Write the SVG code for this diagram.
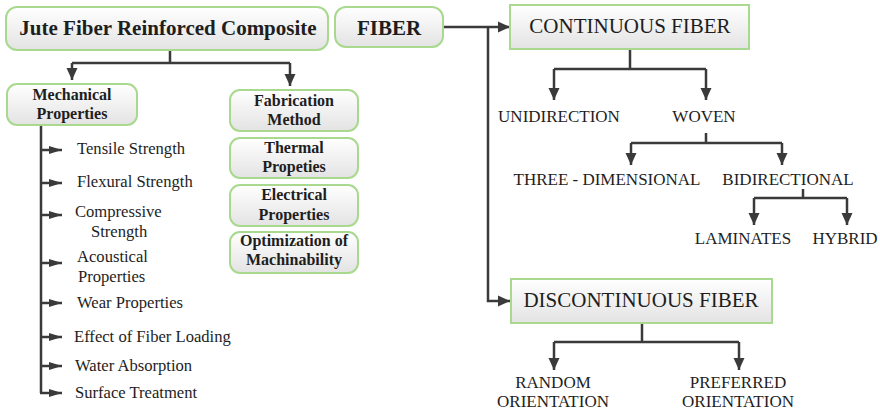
<svg xmlns="http://www.w3.org/2000/svg" width="880" height="413" viewBox="0 0 880 413">
<defs>
<linearGradient id="g" x1="0" y1="0" x2="0" y2="1">
<stop offset="0" stop-color="#ffffff"/>
<stop offset="1" stop-color="#e3e3e3"/>
</linearGradient>
<marker id="ah" markerUnits="userSpaceOnUse" markerWidth="12" markerHeight="12" refX="12" refY="6" orient="auto">
<path d="M0,0.5 L12,6 L0,11.5 z" fill="#3a3a3a"/>
</marker>
<marker id="as" markerUnits="userSpaceOnUse" markerWidth="13" markerHeight="9" refX="13" refY="4.5" orient="auto">
<path d="M0,0.5 L13,4.5 L0,8.5 z" fill="#3a3a3a"/>
</marker>
</defs>
<style>
.box{fill:url(#g);stroke:#a9d98e;stroke-width:2}
.t{font-family:"Liberation Serif","Times New Roman",serif;fill:#1e1e1e;text-anchor:middle}
.b{font-weight:bold}
.l{font-family:"Liberation Serif","Times New Roman",serif;fill:#1e1e1e;font-size:16.6px}
.c{fill:none;stroke:#3a3a3a;stroke-width:2.5}
.cs{fill:none;stroke:#3a3a3a;stroke-width:2.5}
</style>
<rect width="880" height="413" fill="#ffffff"/>

<g id="connectors">
<path class="c" d="M170,50 V63 M72,63 H290"/>
<path class="c" d="M72,63 V80" marker-end="url(#ah)"/>
<path class="c" d="M290,63 V86" marker-end="url(#ah)"/>
<path class="c" d="M443,27 H510" marker-end="url(#ah)"/>
<path class="c" d="M488,27 V301 H510" marker-end="url(#ah)"/>
<path class="c" d="M630,49 V69 M554,69 H706"/>
<path class="c" d="M554,69 V100" marker-end="url(#ah)"/>
<path class="c" d="M706,69 V100" marker-end="url(#ah)"/>
<path class="c" d="M706,133 V143 M631,143 H782"/>
<path class="c" d="M631,143 V165" marker-end="url(#ah)"/>
<path class="c" d="M782,143 V165" marker-end="url(#ah)"/>
<path class="c" d="M803,189 V198 M754,198 H847"/>
<path class="c" d="M754,198 V225" marker-end="url(#ah)"/>
<path class="c" d="M847,198 V225" marker-end="url(#ah)"/>
<path class="c" d="M642,323 V342 M554,342 H739"/>
<path class="c" d="M554,342 V370" marker-end="url(#ah)"/>
<path class="c" d="M739,342 V370" marker-end="url(#ah)"/>
<path class="cs" d="M41,125 V393"/>
<path class="cs" d="M41,150 H62" marker-end="url(#as)"/>
<path class="cs" d="M41,183 H62" marker-end="url(#as)"/>
<path class="cs" d="M41,215 H62" marker-end="url(#as)"/>
<path class="cs" d="M41,263 H62" marker-end="url(#as)"/>
<path class="cs" d="M41,303 H62" marker-end="url(#as)"/>
<path class="cs" d="M41,337 H62" marker-end="url(#as)"/>
<path class="cs" d="M41,366 H62" marker-end="url(#as)"/>
<path class="cs" d="M40,393 H62" marker-end="url(#as)"/>
</g>

<g id="jute">
<rect class="box" x="6" y="7" width="322" height="43" rx="11"/>
<text class="t b" x="168" y="35" font-size="21">Jute Fiber Reinforced Composite</text>
</g>
<g id="fiber">
<rect class="box" x="335" y="7" width="108" height="40" rx="11"/>
<text class="t b" x="389" y="35" font-size="21">FIBER</text>
</g>
<g id="mechanical">
<rect class="box" x="7" y="84" width="130" height="41" rx="10"/>
<text class="t b" x="72" y="100" font-size="16">Mechanical</text>
<text class="t b" x="72" y="119" font-size="16">Properties</text>
</g>
<g id="fabrication">
<rect class="box" x="230" y="90" width="128" height="41" rx="10"/>
<text class="t b" x="294" y="106" font-size="16">Fabrication</text>
<text class="t b" x="294" y="125" font-size="16">Method</text>
</g>
<g id="thermal">
<rect class="box" x="230" y="138" width="128" height="40" rx="10"/>
<text class="t b" x="294" y="153" font-size="16">Thermal</text>
<text class="t b" x="294" y="172" font-size="16">Propeties</text>
</g>
<g id="electrical">
<rect class="box" x="230" y="185" width="128" height="41" rx="10"/>
<text class="t b" x="294" y="200" font-size="16">Electrical</text>
<text class="t b" x="294" y="220" font-size="16">Properties</text>
</g>
<g id="optimization">
<rect class="box" x="230" y="232" width="128" height="41" rx="10"/>
<text class="t b" x="294" y="246" font-size="16">Optimization of</text>
<text class="t b" x="294" y="265" font-size="16">Machinability</text>
</g>

<g id="mech-list">
<text class="l" x="77" y="154">Tensile Strength</text>
<text class="l" x="77" y="187">Flexural Strength</text>
<text class="l" x="75" y="217">Compressive</text>
<text class="l" x="91" y="237">Strength</text>
<text class="l" x="77" y="262">Acoustical</text>
<text class="l" x="78" y="282">Properties</text>
<text class="l" x="77" y="308">Wear Properties</text>
<text class="l" x="74" y="342">Effect of Fiber Loading</text>
<text class="l" x="75" y="371">Water Absorption</text>
<text class="l" x="75" y="398">Surface Treatment</text>
</g>

<g id="continuous">
<rect class="box" x="510" y="5" width="239" height="44"/>
<text class="t" x="630" y="33" font-size="21">CONTINUOUS FIBER</text>
</g>
<g id="unidirection"><text class="t" x="559" y="122" font-size="17">UNIDIRECTION</text></g>
<g id="woven"><text class="t" x="704" y="122" font-size="17">WOVEN</text></g>
<g id="three-dimensional"><text class="t" x="607" y="185" font-size="17">THREE - DIMENSIONAL</text></g>
<g id="bidirectional"><text class="t" x="788" y="185" font-size="17">BIDIRECTIONAL</text></g>
<g id="laminates"><text class="t" x="743" y="244" font-size="17">LAMINATES</text></g>
<g id="hybrid"><text class="t" x="845" y="244" font-size="17">HYBRID</text></g>

<g id="discontinuous">
<rect class="box" x="511" y="279" width="261" height="44"/>
<text class="t" x="641" y="307" font-size="21">DISCONTINUOUS FIBER</text>
</g>
<g id="random">
<text class="t" x="553" y="388" font-size="17">RANDOM</text>
<text class="t" x="553" y="407" font-size="17">ORIENTATION</text>
</g>
<g id="preferred">
<text class="t" x="738" y="388" font-size="17">PREFERRED</text>
<text class="t" x="738" y="407" font-size="17">ORIENTATION</text>
</g>
</svg>
